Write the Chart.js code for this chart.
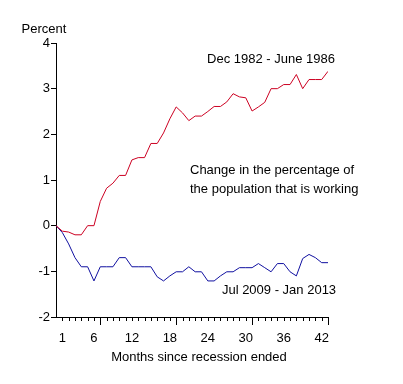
<!DOCTYPE html>
<html>
<head>
<meta charset="utf-8">
<script src="https://cdn.jsdelivr.net/npm/chart.js@4/dist/chart.umd.min.js"></script>
<style>
  html, body { margin: 0; padding: 0; background: #fff; }
  #wrap { width: 403px; height: 384px; }
</style>
</head>
<body>
<div id="wrap"><canvas id="chart"></canvas></div>
<script>
// Months since recession ended (0 = trough)
const months = [0, 1, 2, 3, 4, 5, 6, 7, 8, 9, 10, 11, 12, 13, 14, 15, 16, 17, 18, 19, 20, 21,
  22, 23, 24, 25, 26, 27, 28, 29, 30, 31, 32, 33, 34, 35, 36, 37, 38, 39, 40, 41, 42, 43];

// Dec 1982 - June 1986
const recovery1982 = [0, -0.12, -0.14, -0.2, -0.2, 0, 0, 0.53, 0.82, 0.93, 1.1, 1.1, 1.44, 1.49,
  1.49, 1.8, 1.8, 2.03, 2.34, 2.6, 2.47, 2.3, 2.4, 2.4, 2.5, 2.61, 2.61, 2.71, 2.89, 2.82, 2.8,
  2.51, 2.6, 2.7, 3.0, 3.0, 3.09, 3.09, 3.31, 3.0, 3.2, 3.2, 3.2, 3.38];

// Jul 2009 - Jan 2013
const recovery2009 = [0, -0.15, -0.4, -0.7, -0.9, -0.9, -1.21, -0.9, -0.9, -0.9, -0.7, -0.7,
  -0.9, -0.9, -0.9, -0.9, -1.12, -1.21, -1.1, -1.01, -1.01, -0.9, -1.01, -1.01, -1.21, -1.21,
  -1.1, -1.01, -1.01, -0.92, -0.92, -0.92, -0.83, -0.92, -1.01, -0.83, -0.83, -1.01, -1.1,
  -0.72, -0.63, -0.7, -0.81, -0.81];

const xTickLabels = [1, 6, 12, 18, 24, 30, 36, 42];
const majorTicks = [7, 19, 31, 43];

const FONT = '"Liberation Sans", Arial, sans-serif';

// Annotations, month ticks and titles
const decorations = {
  id: 'decorations',
  afterDraw(chart) {
    const { ctx, scales: { x } } = chart;
    const axisY = Math.round(chart.chartArea.bottom);
    ctx.save();
    ctx.fillStyle = '#000';
    for (let m = 1; m <= 43; m++) {
      const px = Math.round(x.getPixelForValue(m));
      const len = majorTicks.includes(m) ? 8 : 4;
      ctx.fillRect(px, axisY, 1, len);
    }

    ctx.font = '13px ' + FONT;
    ctx.textBaseline = 'middle';
    ctx.textAlign = 'center';
    ctx.fillText('Percent', 44, 29);
    ctx.fillText('Months since recession ended', 199, 357);
    ctx.fillText('Dec 1982 - June 1986', 271, 59);
    ctx.fillText('Jul 2009 - Jan 2013', 279, 290);
    ctx.textAlign = 'left';
    ctx.fillText('Change in the percentage of', 190, 170);
    ctx.fillText('the population that is working', 190, 189);
    ctx.restore();
  }
};

new Chart(document.getElementById('chart'), {
  type: 'line',
  data: {
    datasets: [
      {
        label: 'Dec 1982 - June 1986',
        data: months.map((m, i) => ({ x: m, y: recovery1982[i] })),
        borderColor: '#cc0022',
        borderWidth: 1,
        pointRadius: 0,
        tension: 0,
        fill: false
      },
      {
        label: 'Jul 2009 - Jan 2013',
        data: months.map((m, i) => ({ x: m, y: recovery2009[i] })),
        borderColor: '#1010a0',
        borderWidth: 1,
        pointRadius: 0,
        tension: 0,
        fill: false
      }
    ]
  },
  options: {
    responsive: true,
    maintainAspectRatio: false,
    animation: false,
    layout: { padding: { left: 0, right: 75, top: 43, bottom: 0 } },
    plugins: {
      legend: { display: false },
      tooltip: { enabled: false }
    },
    scales: {
      x: {
        type: 'linear',
        min: 0,
        max: 43,
        afterBuildTicks: (s) => { s.ticks = xTickLabels.map(v => ({ value: v })); },
        afterFit: (s) => { s.height = 67; },
        grid: { display: false },
        border: { display: true, color: '#000', width: 1 },
        ticks: {
          color: '#000',
          font: { family: FONT, size: 13 },
          padding: 6,
          maxRotation: 0,
          autoSkip: false
        }
      },
      y: {
        min: -2,
        max: 4,
        afterFit: (s) => { s.width = 56; },
        grid: { drawOnChartArea: false, tickLength: 5, color: '#000' },
        border: { display: true, color: '#000', width: 1 },
        ticks: {
          stepSize: 1,
          color: '#000',
          font: { family: FONT, size: 13 },
          padding: 1
        }
      }
    }
  },
  plugins: [decorations]
});
</script>
</body>
</html>
